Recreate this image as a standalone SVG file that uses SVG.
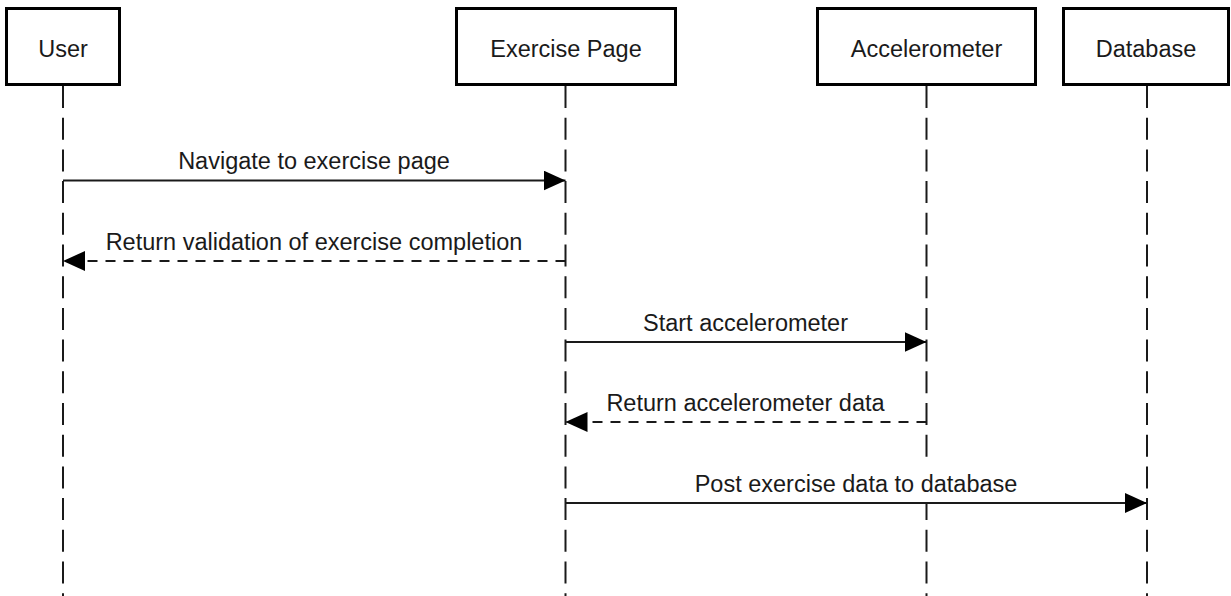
<svg xmlns="http://www.w3.org/2000/svg" width="1231" height="596" viewBox="0 0 1231 596">
  <defs>
    <style>
      .box { fill: #ffffff; stroke: #000000; stroke-width: 3; }
      .lbl { font-family: "Liberation Sans", Arial, Helvetica, sans-serif; font-size: 23.5px; fill: #1a1a1a; text-anchor: middle; }
      .life { stroke: #1a1a1a; stroke-width: 2; stroke-dasharray: 22 9.7; fill: none; }
      .msg { stroke: #1a1a1a; stroke-width: 2; fill: none; marker-end: url(#arrow); }
      .ret { stroke-dasharray: 10 8; }
      .lblbg { fill: #ffffff; stroke: none; }
    </style>
    <marker id="arrow" markerUnits="userSpaceOnUse" viewBox="0 0 22 20" refX="22" refY="10" markerWidth="22" markerHeight="20" orient="auto">
      <path d="M0,0 L22,10 L0,20 Z" fill="#000000" stroke="none"/>
    </marker>
  </defs>

  <g id="lifelines">
    <line class="life" x1="63" y1="86" x2="63" y2="596"/>
    <line class="life" x1="565.5" y1="86" x2="565.5" y2="596"/>
    <line class="life" x1="926.5" y1="86" x2="926.5" y2="596"/>
    <line class="life" x1="1147" y1="86" x2="1147" y2="596"/>
  </g>

  <g id="node-user">
    <rect class="box" x="6.5" y="8.5" width="113" height="76"/>
    <text class="lbl" x="63" y="57">User</text>
  </g>
  <g id="node-exercise-page">
    <rect class="box" x="456.5" y="8.5" width="219" height="76"/>
    <text class="lbl" x="566" y="57">Exercise Page</text>
  </g>
  <g id="node-accelerometer">
    <rect class="box" x="817.5" y="8.5" width="218" height="76"/>
    <text class="lbl" x="926.5" y="57">Accelerometer</text>
  </g>
  <g id="node-database">
    <rect class="box" x="1063.5" y="8.5" width="165" height="76"/>
    <text class="lbl" x="1146" y="57">Database</text>
  </g>

  <g id="connectors">
    <line class="msg" x1="63" y1="180.5" x2="565.5" y2="180.5"/>
    <text class="lbl" x="314" y="168.5">Navigate to exercise page</text>

    <line class="msg ret" x1="565.5" y1="261" x2="63" y2="261"/>
    <text class="lbl" x="314" y="249.5">Return validation of exercise completion</text>

    <line class="msg" x1="565.5" y1="342" x2="926.5" y2="342"/>
    <text class="lbl" x="745.5" y="330.5">Start accelerometer</text>

    <line class="msg ret" x1="926.5" y1="422" x2="565.5" y2="422"/>
    <text class="lbl" x="745.5" y="410.5">Return accelerometer data</text>

    <rect class="lblbg" x="688" y="459" width="336" height="43"/>
    <line class="msg" x1="565.5" y1="503" x2="1147" y2="503"/>
    <text class="lbl" x="856" y="491.5">Post exercise data to database</text>
  </g>
</svg>
